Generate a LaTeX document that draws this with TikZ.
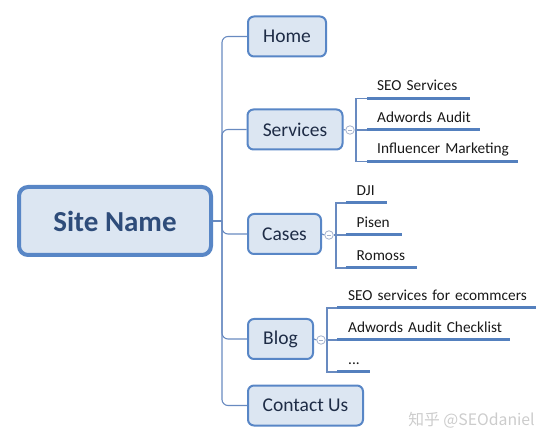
\documentclass[tikz,border=0pt]{standalone}
\usepackage{fontspec}
\setmainfont{Carlito}
\newfontfamily\cjk{Noto Sans CJK SC}
\definecolor{bordblue}{RGB}{88,134,198}
\definecolor{boxfill}{RGB}{220,230,242}
\definecolor{connblue}{RGB}{104,138,192}
\definecolor{ulblue}{RGB}{84,128,190}
\definecolor{topictext}{RGB}{30,44,70}
\definecolor{centertext}{RGB}{46,76,122}
\definecolor{circgray}{RGB}{165,178,204}
\begin{document}
\begin{tikzpicture}[x=1pt,y=-1pt,
  central/.style={draw=bordblue, line width=4pt, fill=boxfill, rounded corners=9pt,
    minimum width=192pt, minimum height=68pt, inner sep=0pt,
    font=\fontsize{29}{30}\selectfont\bfseries, text=centertext},
  topic/.style={draw=bordblue, line width=2pt, fill=boxfill, rounded corners=6pt,
    minimum height=40pt, inner sep=0pt,
    font=\fontsize{19.5}{22}\selectfont, text=topictext},
  item/.style={anchor=south west, inner xsep=0pt, inner ysep=7.5pt, text depth=0pt,
    align=left, font=\fontsize{15.3}{17}\selectfont, text=black!90},
  ul/.style={draw=ulblue, line width=3pt},
  conn/.style={draw=connblue, line width=1.1pt},
  fold/.style={circle, draw=circgray, line width=0.8pt, fill=white, minimum size=8.5pt, inner sep=0pt,
    path picture={\draw[circgray, line width=0.8pt]
      ([xshift=2pt]path picture bounding box.west) -- ([xshift=-2pt]path picture bounding box.east);}}
]
\useasboundingbox (0,0) rectangle (554,443);

% central node
\node[central] (site) at (115,221) {Site Name};

% topics
\node[topic, minimum width=78pt] (home) at (287,36.5) {Home};
\node[topic, minimum width=95pt] (services) at (295,129.5) {Services};
\node[topic, minimum width=73pt] (cases) at (284.5,234) {Cases};
\node[topic, minimum width=65pt] (blog) at (280.5,339) {Blog};
\node[topic, minimum width=115pt] (contact) at (305.5,405.5) {Contact Us};

% trunk
\coordinate (t) at (222,221);
\draw[conn] (site.east) -- (t);
\foreach \n in {home,services,cases,blog,contact}
  \draw[conn, rounded corners=6pt] (t) |- (\n.west);

% fold circles
\node[fold] (sf) at (350,130) {};
\node[fold] (cf) at (329,235) {};
\node[fold] (bf) at (321,340) {};

% Services items
\node[item, text width=103pt] (s1) at (367,98.3) {\hspace*{10pt}\mbox{SEO Services}};
\node[item, text width=113pt] (s2) at (367,130) {\hspace*{10pt}\mbox{Adwords Audit}};
\node[item, text width=151pt] (s3) at (367,161.7) {\hspace*{10pt}\mbox{Influencer Marketing}};
\coordinate (sb) at (356,130);
\draw[conn] (services.east) -- (sf.west);
\draw[conn] (sf.east) -- (sb);
\draw[conn] (s1.south west) -| (sb) |- (s3.south west);
\draw[conn] (sb) -- (s2.south west);
\foreach \n in {s1,s2,s3} \draw[ul] (\n.south west) -- (\n.south east);

% Cases items
\node[item, text width=41pt] (c1) at (346,203) {\hspace*{10.5pt}\mbox{DJI}};
\node[item, text width=56pt] (c2) at (346,235) {\hspace*{10.5pt}\mbox{Pisen}};
\node[item, text width=71pt] (c3) at (346,268) {\hspace*{10.5pt}\mbox{Romoss}};
\coordinate (cb) at (336,235);
\draw[conn] (cases.east) -- (cf.west);
\draw[conn] (cf.east) -- (cb);
\draw[conn] (c1.south west) -| (cb) |- (c3.south west);
\draw[conn] (cb) -- (c2.south west);
\foreach \n in {c1,c2,c3} \draw[ul] (\n.south west) -- (\n.south east);

% Blog items
\node[item, text width=199pt] (b1) at (337,308) {\hspace*{11pt}\mbox{SEO services for ecommcers}};
\node[item, text width=173pt] (b2) at (337,340) {\hspace*{11pt}\mbox{Adwords Audit Checklist}};
\node[item, text width=33pt] (b3) at (337,372) {\hspace*{11pt}\mbox{...}};
\coordinate (bb) at (327,340);
\draw[conn] (blog.east) -- (bf.west);
\draw[conn] (bf.east) -- (bb);
\draw[conn] (b1.south west) -| (bb) |- (b3.south west);
\draw[conn] (bb) -- (b2.south west);
\foreach \n in {b1,b2,b3} \draw[ul] (\n.south west) -- (\n.south east);

% watermark
\node[font=\cjk\fontsize{15.8}{17}\selectfont, text=black!20, inner sep=0pt] (wm) at (471.5,420) {知乎 @SEOdaniel};
\end{tikzpicture}
\end{document}
